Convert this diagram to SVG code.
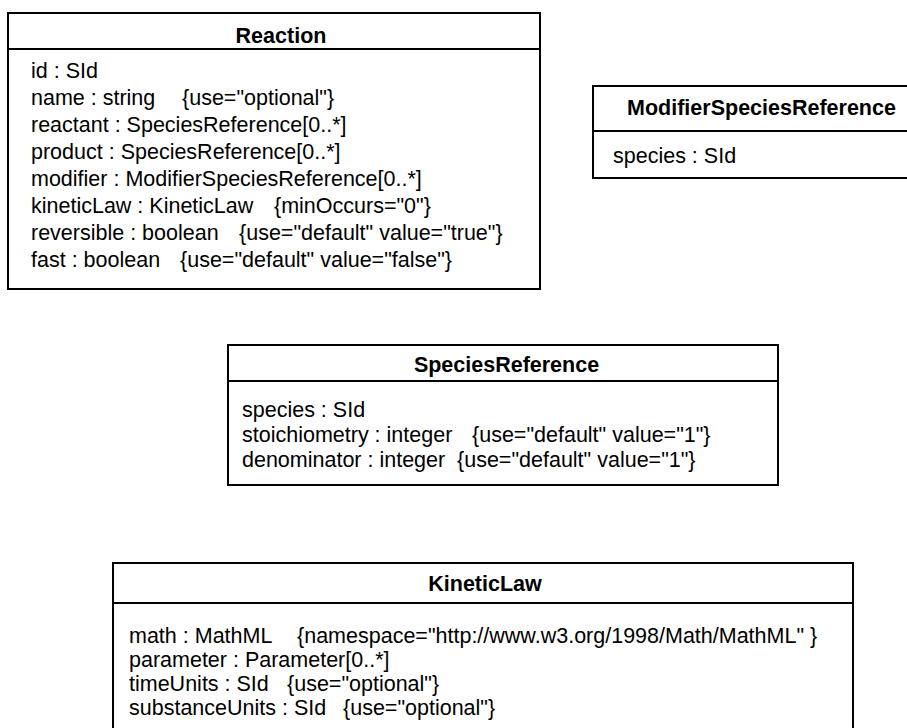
<svg xmlns="http://www.w3.org/2000/svg" width="907" height="728" viewBox="0 0 907 728">
<style>
.box{fill:#fff;stroke:#000;stroke-width:2}
.div{stroke:#000;stroke-width:2}
.t{font-family:"Liberation Sans",Arial,sans-serif;font-size:21.5px;font-weight:bold;text-anchor:middle;fill:#000}
.a{font-family:"Liberation Sans",Arial,sans-serif;font-size:21.5px;fill:#000}
</style>
<rect width="907" height="728" fill="#fff"/>
<g id="Reaction">
<rect class="box" x="8" y="13" width="532" height="276"/>
<line class="div" x1="8" y1="49" x2="540" y2="49"/>
<text class="t" x="281" y="43">Reaction</text>
<text class="a" x="31" y="78">id : SId</text>
<text class="a" y="105"><tspan x="31">name : string</tspan><tspan x="182">{use="optional"}</tspan></text>
<text class="a" x="31" y="132">reactant : SpeciesReference[0..*]</text>
<text class="a" x="31" y="159">product : SpeciesReference[0..*]</text>
<text class="a" x="31" y="186">modifier : ModifierSpeciesReference[0..*]</text>
<text class="a" y="213"><tspan x="31">kineticLaw : KineticLaw</tspan><tspan x="274">{minOccurs="0"}</tspan></text>
<text class="a" y="240"><tspan x="31">reversible : boolean</tspan><tspan x="239">{use="default" value="true"}</tspan></text>
<text class="a" y="267"><tspan x="31">fast : boolean</tspan><tspan x="180">{use="default" value="false"}</tspan></text>
</g>
<g id="ModifierSpeciesReference">
<rect class="box" x="593" y="86" width="330" height="92"/>
<line class="div" x1="593" y1="131" x2="923" y2="131"/>
<text class="t" x="761.5" y="115">ModifierSpeciesReference</text>
<text class="a" x="613" y="163">species : SId</text>
</g>
<g id="SpeciesReference">
<rect class="box" x="228" y="345" width="550" height="140"/>
<line class="div" x1="228" y1="381" x2="778" y2="381"/>
<text class="t" x="506.5" y="372">SpeciesReference</text>
<text class="a" x="242" y="417">species : SId</text>
<text class="a" y="442"><tspan x="242">stoichiometry : integer</tspan><tspan x="472">{use="default" value="1"}</tspan></text>
<text class="a" y="467"><tspan x="242">denominator : integer</tspan><tspan x="457">{use="default" value="1"}</tspan></text>
</g>
<g id="KineticLaw">
<rect class="box" x="113" y="563" width="740" height="200"/>
<line class="div" x1="113" y1="603" x2="853" y2="603"/>
<text class="t" x="485" y="591">KineticLaw</text>
<text class="a" y="643"><tspan x="129">math : MathML</tspan><tspan x="297">{namespace="http://www.w3.org/1998/Math/MathML" }</tspan></text>
<text class="a" x="129" y="667">parameter : Parameter[0..*]</text>
<text class="a" y="691"><tspan x="129">timeUnits : SId</tspan><tspan x="287">{use="optional"}</tspan></text>
<text class="a" y="715"><tspan x="129">substanceUnits : SId</tspan><tspan x="343">{use="optional"}</tspan></text>
</g>
<g id="connectors"></g>
</svg>
